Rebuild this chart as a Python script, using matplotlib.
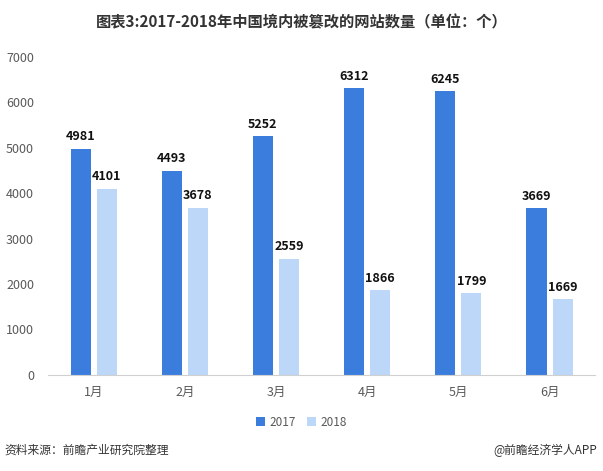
import matplotlib
matplotlib.use("Agg")
import matplotlib.pyplot as plt
import numpy as np

plt.rcParams['font.family'] = ['Noto Sans CJK SC', 'DejaVu Sans']

categories = ['1月', '2月', '3月', '4月', '5月', '6月']
series_2017 = [4981, 4493, 5252, 6312, 6245, 3669]
series_2018 = [4101, 3678, 2559, 1866, 1799, 1669]
yticks = [0, 1000, 2000, 3000, 4000, 5000, 6000, 7000]

c17 = '#3B7DDD'
c18 = '#BDD7F8'

fig = plt.figure(figsize=(6.03, 4.71), dpi=100)
ax = fig.add_axes([0.0796, 0.204, 0.9074, 0.675])

x = np.arange(len(categories))
w = 0.22
off = 0.143
b1 = ax.bar(x - off, series_2017, w, color=c17, label='2017')
b2 = ax.bar(x + off, series_2018, w, color=c18, label='2018')

for rect, v in zip(b1, series_2017):
    ax.text(rect.get_x() + rect.get_width() / 2, v + 120, str(v), ha='center', va='bottom',
            fontsize=9, fontweight='bold', color='#111111')
for rect, v in zip(b2, series_2018):
    ax.text(rect.get_x() + rect.get_width() / 2, v + 120, str(v), ha='center', va='bottom',
            fontsize=9, fontweight='bold', color='#111111')

ax.set_xlim(-0.5, len(categories) - 0.5)
ax.set_ylim(0, 7000)
ax.set_yticks(yticks)
ax.set_yticklabels([str(t) for t in yticks])
ax.set_xticks(x)
ax.set_xticklabels(categories)
for s in ['top', 'right', 'left']:
    ax.spines[s].set_visible(False)
ax.spines['bottom'].set_color('#D0D0D0')
ax.tick_params(axis='both', length=0, labelsize=9, colors='#595959')
ax.tick_params(axis='y', pad=10)
ax.tick_params(axis='x', pad=8)

fig.text(0.5, 0.953, '图表3:2017-2018年中国境内被篡改的网站数量（单位：个）', ha='center', va='center',
         fontsize=11, fontweight='bold', color='#333333')

leg = fig.legend(handles=[b1, b2], labels=['2017', '2018'], loc='center', bbox_to_anchor=(0.5, 0.104),
                 ncol=2, frameon=False, fontsize=8.5, handlelength=0.7, handleheight=0.7,
                 columnspacing=1.0, handletextpad=0.4)
for t in leg.get_texts():
    t.set_color('#595959')

fig.text(0.008, 0.044, '资料来源：前瞻产业研究院整理', ha='left', va='center', fontsize=8.5,
         style='italic', color='#333333')
fig.text(0.99, 0.044, '@前瞻经济学人APP', ha='right', va='center', fontsize=8.5, color='#333333')

fig.savefig('out.png', dpi=100)
